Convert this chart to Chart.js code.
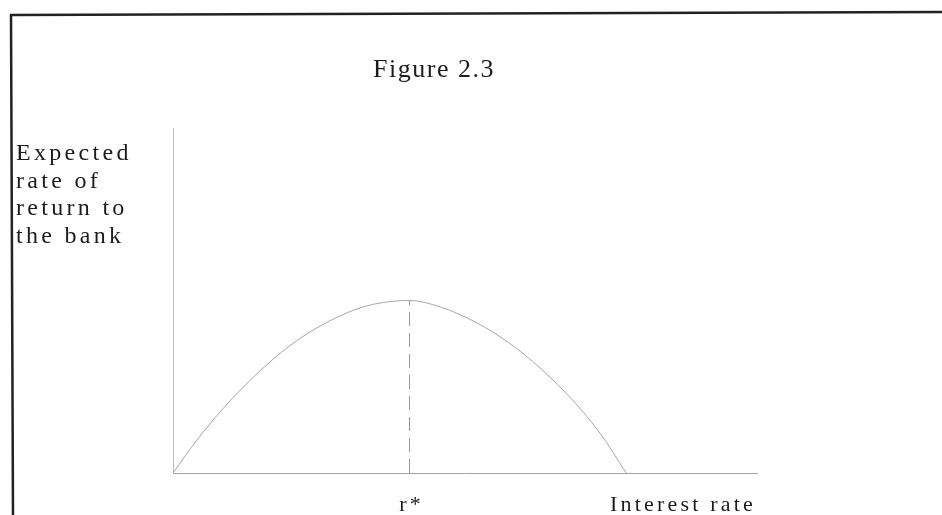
<!DOCTYPE html>
<html>
<head>
<meta charset="utf-8">
<title>Figure 2.3</title>
<script src="https://cdn.jsdelivr.net/npm/chart.js@4.4.0/dist/chart.umd.min.js"></script>
<style>
  html, body { margin: 0; padding: 0; background: #fff; }
  #wrap { position: relative; width: 942px; height: 515px; }
</style>
</head>
<body>
<div id="wrap"><canvas id="fig" width="942" height="515"></canvas></div>
<script>
// Expected return to the bank as a function of the interest rate it charges
const interestRate   = [0, 0.43, 1.01, 1.58, 2.14, 2.72, 3.29, 3.85, 4.05, 4.45, 5.03, 5.60, 6.16, 6.75, 7.31, 7.76];
const expectedReturn = [0, 1.00, 2.15, 3.10, 3.86, 4.44, 4.83, 4.99, 5.00, 4.88, 4.50, 3.95, 3.23, 2.28, 1.16, 0];

// optimal rate r* and the return there
const rStar = 4.05;
const peakReturn = 5.00;

// axis ranges
const xMax = 10;
const yMax = 10;

// text
const figureTitle = 'Figure 2.3';
const yLabelLines = ['Expected', 'rate of', 'return to', 'the bank'];
const xLabel = 'Interest rate';
const rLabel = 'r*';

const serif = '"Liberation Serif", "DejaVu Serif", serif';
const inkColor = '#1c1c1c';

const curvePoints = interestRate.map((x, i) => ({ x: x, y: expectedReturn[i] }));
const dropLine = [{ x: rStar, y: 0 }, { x: rStar, y: peakReturn }];

// frame + labels drawn on the canvas
const annotations = {
    id: 'annotations',
    afterDraw(chart) {
        const ctx = chart.ctx;
        const xs = chart.scales.x;

        ctx.save();
        // frame (top and left edges)
        ctx.strokeStyle = '#222';
        ctx.lineWidth = 2.5;
        ctx.beginPath();
        ctx.moveTo(10, 15);
        ctx.lineTo(942, 12);
        ctx.moveTo(11, 14);
        ctx.lineTo(13, 515);
        ctx.stroke();

        ctx.fillStyle = inkColor;
        ctx.textBaseline = 'alphabetic';

        // title
        ctx.font = '26px ' + serif;
        ctx.letterSpacing = '1.5px';
        ctx.textAlign = 'center';
        ctx.fillText(figureTitle, 434, 77);

        // y-axis label, stacked lines
        ctx.font = '24px ' + serif;
        ctx.letterSpacing = '3.3px';
        ctx.textAlign = 'left';
        yLabelLines.forEach((line, i) => {
            ctx.fillText(line, 16, 160 + i * 27.7);
        });

        // x-axis labels
        ctx.font = '22px ' + serif;
        ctx.letterSpacing = '3.2px';
        ctx.textAlign = 'center';
        ctx.fillText(rLabel, xs.getPixelForValue(rStar) + 2, 511);
        ctx.textAlign = 'right';
        ctx.fillText(xLabel, xs.right - 1, 511);
        ctx.restore();
    }
};

new Chart(document.getElementById('fig'), {
    type: 'line',
    data: {
        datasets: [{
            data: curvePoints,
            borderColor: '#a6a6a6',
            borderWidth: 1,
            pointRadius: 0,
            cubicInterpolationMode: 'monotone',
            clip: false
        }, {
            data: dropLine,
            borderColor: '#999',
            borderWidth: 1,
            borderDash: [14, 7],
            pointRadius: 0,
            clip: false
        }]
    },
    options: {
        responsive: false,
        animation: false,
        devicePixelRatio: 1,
        layout: {
            padding: { left: 173, right: 185, top: 128, bottom: 42 }
        },
        plugins: {
            legend: { display: false },
            tooltip: { enabled: false },
            title: { display: false }
        },
        scales: {
            x: {
                type: 'linear',
                min: 0,
                max: xMax,
                ticks: { display: false },
                grid: { display: false, drawTicks: false },
                border: { display: true, color: '#a3a3a3', width: 1 }
            },
            y: {
                type: 'linear',
                min: 0,
                max: yMax,
                ticks: { display: false },
                grid: { display: false, drawTicks: false },
                border: { display: true, color: '#bdbdbd', width: 1 }
            }
        }
    },
    plugins: [annotations]
});
</script>
</body>
</html>
